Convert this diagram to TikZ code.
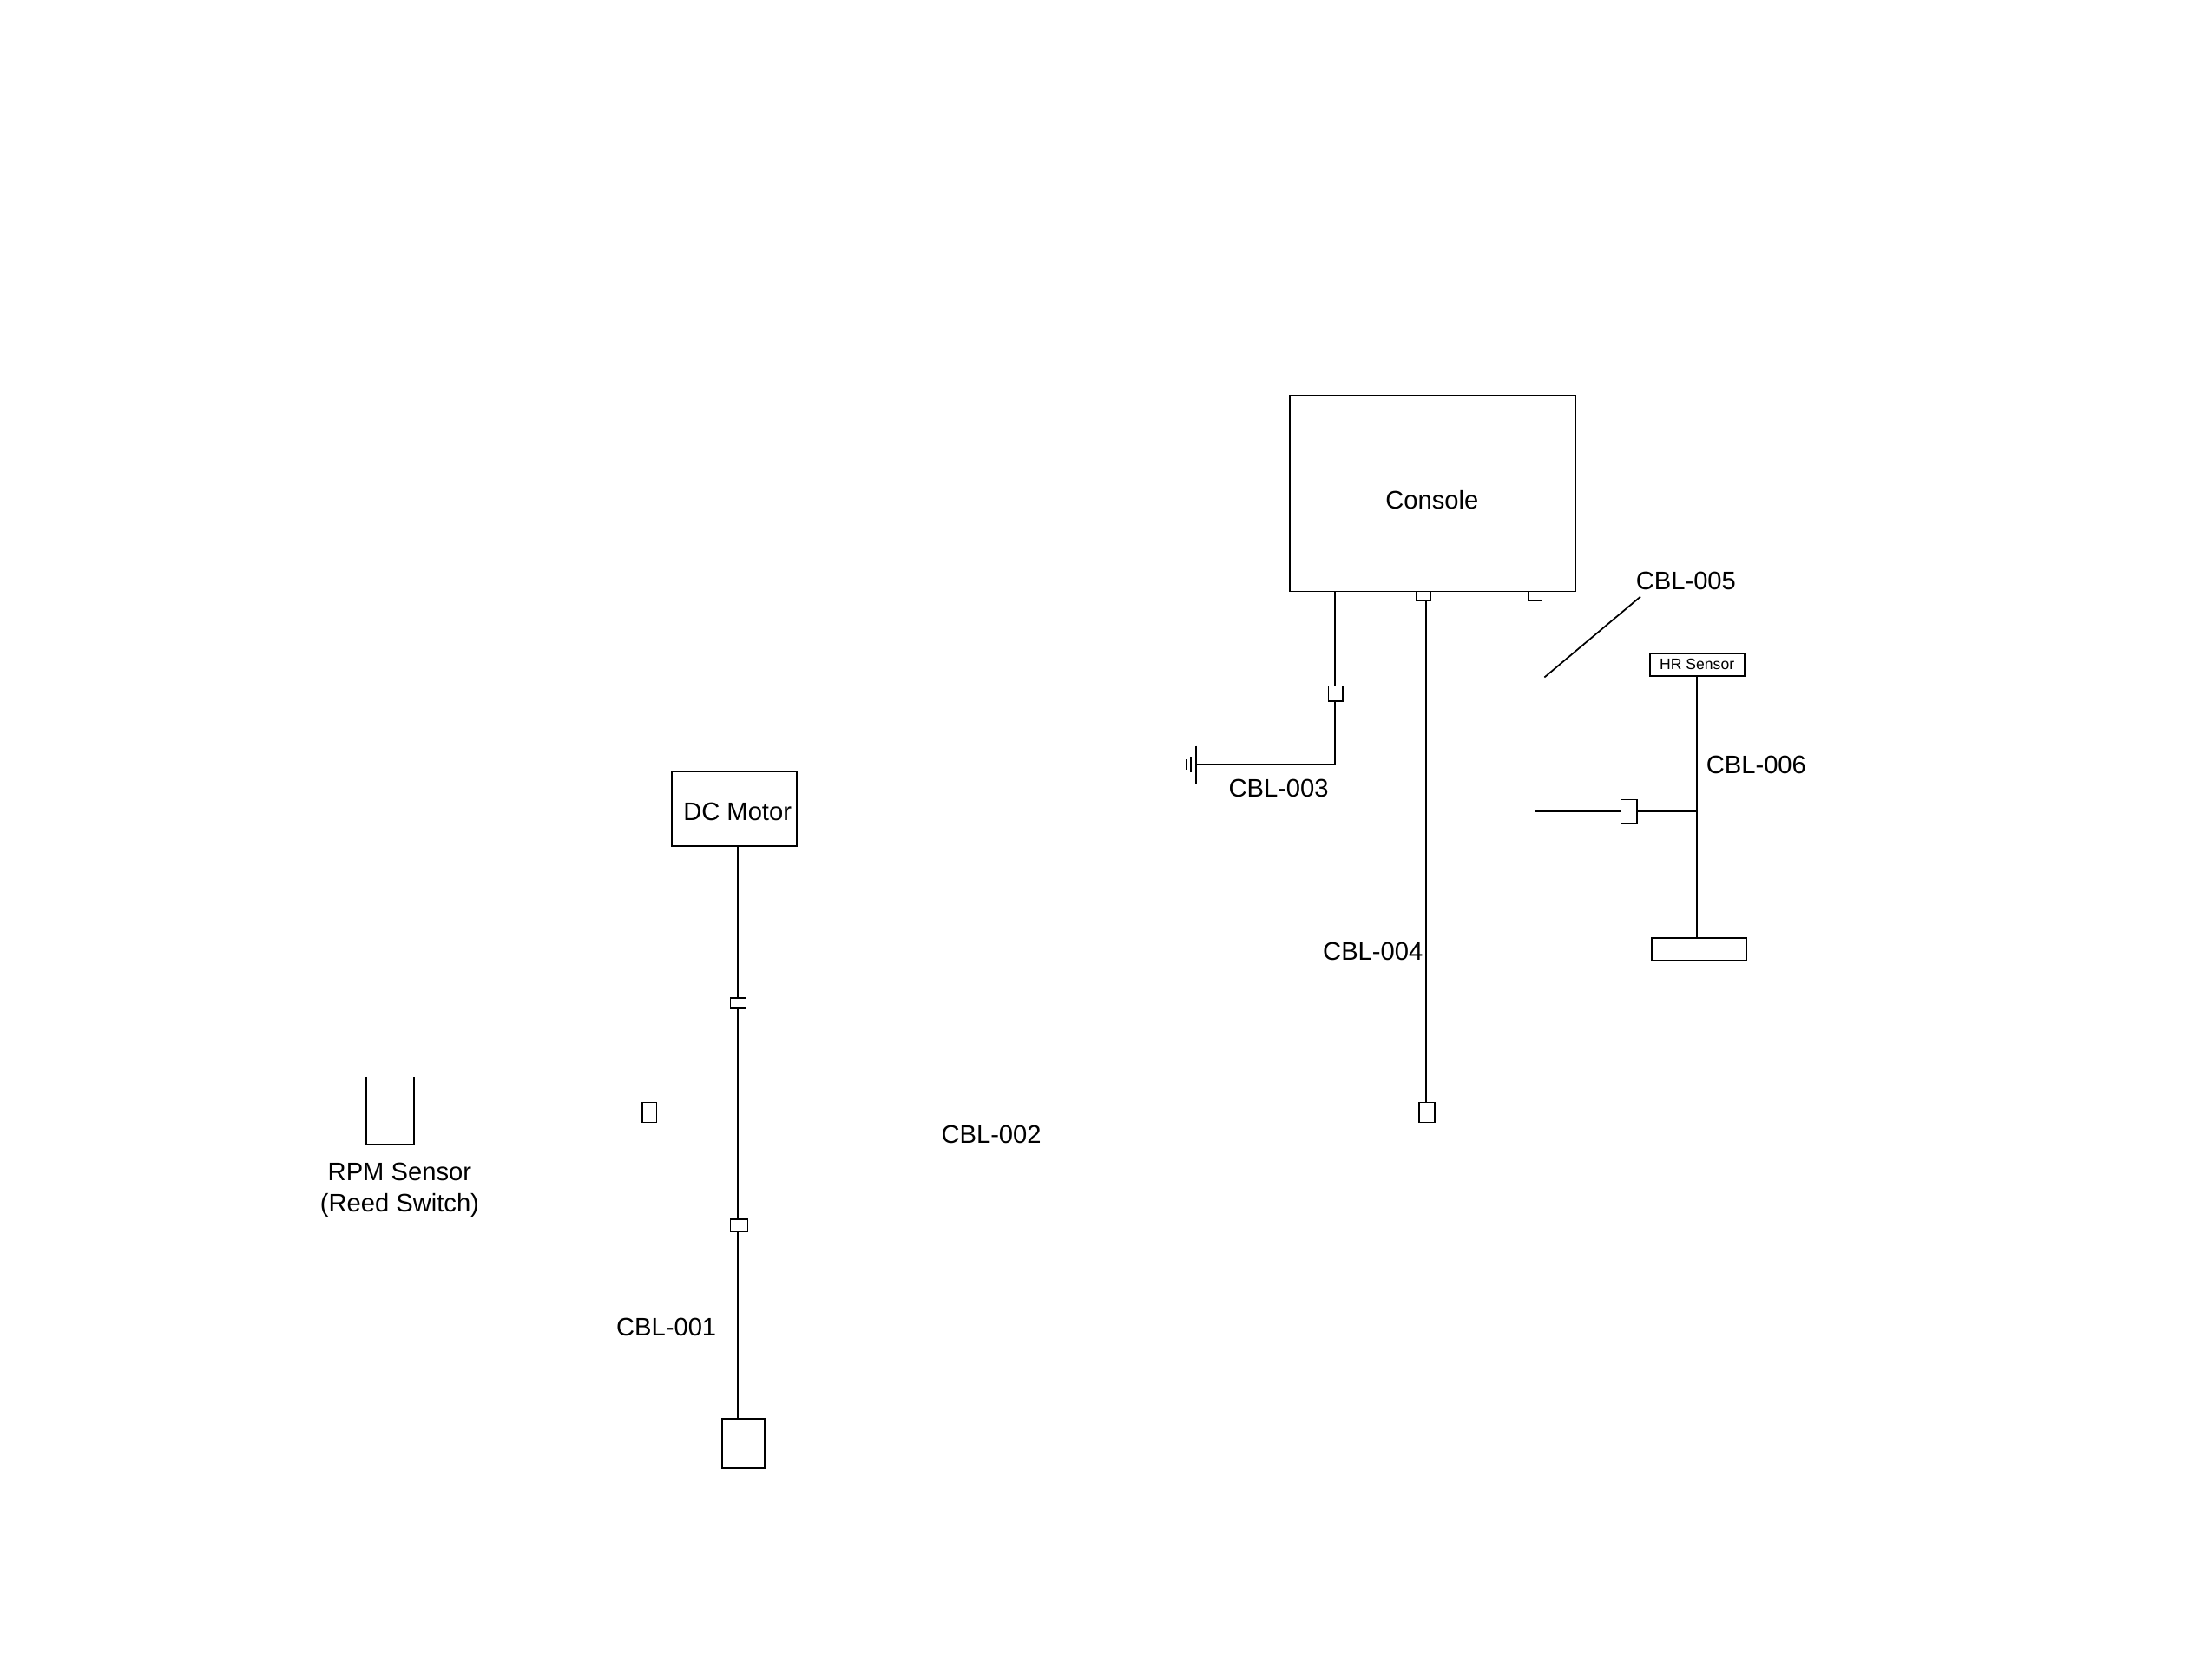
\documentclass[tikz,border=0pt]{standalone}
\usepackage{fontspec}
\setmainfont{Liberation Sans}
\begin{document}
\begin{tikzpicture}[x=0.0988mm,y=-0.0988mm,
  box/.style={draw,line width=0.5pt,inner sep=0pt},
  conn/.style={draw,fill=white,line width=0.4pt},
  wire/.style={line width=0.5pt},
  lbl/.style={font=\fontsize{8.3}{10}\selectfont,inner sep=0pt}]
\useasboundingbox (0,0) rectangle (2576,1959);
% boxes
\node[box,minimum width=32.9mm,minimum height=22.6mm] (console) at (1670.5,575.5) {};
\node[lbl] at (1670,583) {Console};
\node[box,minimum width=14.4mm,minimum height=8.6mm] (motor) at (856,943.5) {};
\node[lbl] at (860,947) {DC Motor};
\node[box,minimum width=10.9mm,minimum height=2.6mm] (hr) at (1979,775) {};
\node[font=\fontsize{5}{6}\selectfont,inner sep=0pt] at (1979,775) {HR Sensor};
\node[box,minimum width=10.9mm,minimum height=2.6mm] (hrb) at (1981,1107) {};
\node[box,minimum width=4.9mm,minimum height=5.7mm] (bot) at (867,1684) {};
% RPM box (open top)
\draw[wire] (427,1256) -- (427,1335) -- (483,1335) -- (483,1256);
\coordinate (rpm) at (483,1297);
\node[lbl,align=center] at (466,1388) {RPM Sensor\\(Reed Switch)};
% coordinates
\coordinate (x) at (860,1297);
\coordinate (c4) at (1663,1297);
\coordinate (g) at (1395,892);
\coordinate (j6) at (1979,946);
% wires
\draw[wire] (rpm) -- (c4);
\draw[wire] (motor.south -| x) -- (bot.north -| x);
\draw[wire] (1663,701) -- (c4);
\draw[wire] (1557,690) -- (1557,892) -- (g);
\draw[wire] (g) ++(0,-22) -- ++(0,44);
\draw[wire] (1389,883) -- (1389,901);
\draw[wire] (1384,886) -- (1384,898);
\draw[wire] (1790,701) -- (1790,946) -- (j6);
\draw[wire] (hr.south -| j6) -- (hrb.north -| j6);
\draw[wire] (1801,790) -- (1913,696);
% connectors
\draw[conn] (1652,690) rectangle (1668,701);
\draw[conn] (1782,690) rectangle (1798,701);
\draw[conn] (1549,800) rectangle (1566,818);
\draw[conn] (1655,1286) rectangle (1673,1309);
\draw[conn] (1890,933) rectangle (1909,960);
\draw[conn] (749,1286) rectangle (766,1309);
\draw[conn] (852,1164) rectangle (870,1176);
\draw[conn] (852,1422) rectangle (872,1437);
% labels
\node[lbl] at (1966,678) {CBL-005};
\node[lbl] at (2048,892) {CBL-006};
\node[lbl] at (1491,920) {CBL-003};
\node[lbl] at (1601,1110) {CBL-004};
\node[lbl] at (1156,1323) {CBL-002};
\node[lbl] at (777,1548) {CBL-001};
\end{tikzpicture}
\end{document}
